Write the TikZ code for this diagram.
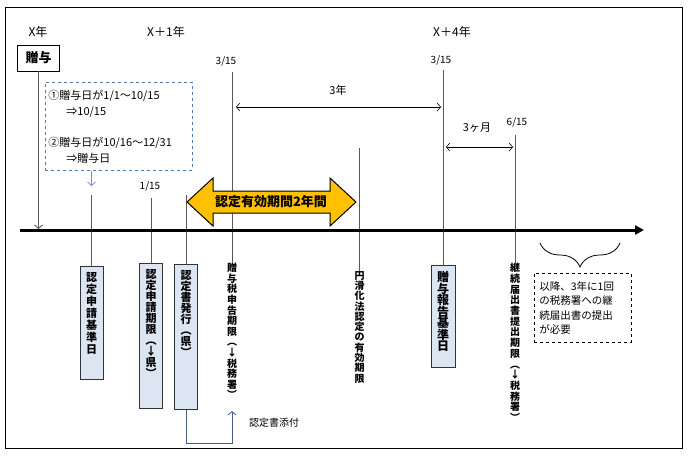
\documentclass[tikz,border=0pt]{standalone}
\usepackage{fontspec}
\setmainfont{Noto Sans CJK JP}
\usetikzlibrary{arrows.meta,decorations.pathreplacing}
\definecolor{boxblue}{HTML}{DCE6F2}
\definecolor{gold}{HTML}{FFC000}
\definecolor{dashblue}{HTML}{4F7BB5}
\definecolor{linkblue}{HTML}{445F88}
\newcommand{\tate}[2]{\vbox{\baselineskip=#1\lineskiplimit=-\maxdimen\lineskip=0pt\let\\\cr\halign{\hfil##\hfil\cr#2\crcr}}}

\begin{document}
\begin{tikzpicture}[x=1pt,y=-1pt,
  tick/.style={draw=black!65,line width=0.9pt},
  tbox/.style={draw=black!80,fill=boxblue,line width=0.9pt,anchor=north,inner xsep=0pt,inner ysep=6pt,minimum width=23pt,font=\bfseries\fontsize{11}{12}\selectfont},
  tlab/.style={anchor=north,inner sep=0pt,font=\bfseries\fontsize{10}{11}\selectfont},
  date/.style={font=\fontsize{10}{11}\selectfont},
  year/.style={font=\fontsize{12}{13}\selectfont},
  barb/.style={-{Straight Barb[length=3.5pt,width=8pt]}},
  dim/.style={draw,line width=0.6pt,{Straight Barb[length=3.5pt,width=8pt]}-{Straight Barb[length=3.5pt,width=8pt]}}]
\useasboundingbox (0,0) rectangle (693,464);
\path[draw,line width=0.8pt] (5,7) rectangle (682,448);

\node[year] (yx) at (38,32) {X年};
\node[year] (yx1) at (166,32) {X＋1年};
\node[year] (yx4) at (452,32) {X＋4年};

\node[draw,line width=0.9pt,minimum width=42pt,minimum height=26pt,font=\bfseries\fontsize{13}{14}\selectfont] (gift) at (38.5,58) {贈与};
\coordinate (g0) at (38.5,229);
\path[tick,barb] (gift) -- (g0);

\node[draw=dashblue,dashed,line width=0.8pt,anchor=north west,minimum width=147pt,minimum height=88pt,text width=141pt,inner sep=3pt,align=left,font=\fontsize{11}{16}\selectfont] (rule) at (45,82) {①贈与日が1/1～10/15\\\hspace*{18pt}⇒10/15\\[15pt]②贈与日が10/16～12/31\\\hspace*{18pt}⇒贈与日};

\node[tbox] (l1) at (91.5,266) {\vbox to 101pt{\tate{12pt}{認\\定\\申\\請\\基\\準\\日}\vfil}};
\node[tbox] (l2) at (151,263) {\vbox to 133pt{\tate{11pt}{認\\定\\申\\請\\期\\限\\︵\\↓\\県\\︶}\vfil}};
\node[tbox] (l3) at (186,264) {\vbox to 133pt{\tate{11pt}{認\\定\\書\\発\\行\\︵\\県\\︶}\vfil}};
\node[tlab] (l4) at (232,263) {\tate{10.6pt}{贈\\与\\税\\申\\告\\期\\限\\︵\\↓\\税\\務\\署\\︶}};
\node[tlab] (l5) at (359.5,271) {\tate{10.3pt}{円\\滑\\化\\法\\認\\定\\の\\有\\効\\期\\限}};
\node[tbox,minimum width=24pt,font=\bfseries\fontsize{12}{13}\selectfont] (l6) at (443,265) {\vbox to 90pt{\tate{11.5pt}{贈\\与\\報\\告\\基\\準\\日}\vfil}};
\node[tlab] (l7) at (515,263) {\tate{10.7pt}{継\\続\\届\\出\\書\\提\\出\\期\\限\\︵\\↓\\税\\務\\署\\︶}};

\coordinate (t1) at (91.5,195);
\coordinate (t2) at (151,198);
\coordinate (t3) at (186,195);
\coordinate (t4) at (232,72);
\coordinate (t5) at (359.5,148);
\coordinate (t6) at (443,70);
\coordinate (t7) at (515,135);
\coordinate (b1) at (91.5,186);
\path[draw=dashblue!85,line width=0.7pt,barb] (rule.south -| t1) -- (b1);
\path[tick] (t1) -- (l1);
\path[tick] (t2) -- (l2);
\path[tick] (t3) -- (l3);
\path[tick] (t4) -- (l4);
\path[tick] (t5) -- (l5);
\path[tick] (t6) -- (l6);
\path[tick] (t7) -- (l7);

\node[date] (d115) at (150,186) {1/15};
\node[date] (d315a) at (226,61) {3/15};
\node[date] (d315b) at (441,60) {3/15};
\node[date] (d615) at (517,122) {6/15};

\coordinate (a1) at (236,107);
\coordinate (a2) at (441,107);
\path[dim] (a1) -- (a2);
\node[font=\fontsize{11}{12}\selectfont] (y3) at (338,90) {3年};
\coordinate (a3) at (446,147);
\coordinate (a4) at (513,147);
\path[dim] (a3) -- (a4);
\node[font=\fontsize{11}{12}\selectfont] (m3) at (477,128) {3ヶ月};

\coordinate (tl0) at (20,230);
\coordinate (tl1) at (644,230);
\path[draw,line width=3pt,-{Triangle[length=9pt,width=9pt]}] (tl0) -- (tl1);

\path[draw,fill=gold,line width=1pt] (187,202) -- (213,178) -- (213,191) -- (330,191) -- (330,178) -- (356,202) -- (330,226) -- (330,213) -- (213,213) -- (213,226) -- cycle;
\node[font=\bfseries\fontsize{13}{14}\selectfont] (valid) at (271,202) {認定有効期間2年間};

\coordinate (att) at (232,411);
\path[draw=linkblue,line width=0.8pt,barb] (l3.south) -- ++(0,33) -| (att);
\node[font=\fontsize{10}{11}\selectfont] (attl) at (274,423) {認定書添付};

\coordinate (br0) at (540,243);
\coordinate (br1) at (620,243);
\path[draw,line width=0.8pt,decorate,decoration={brace,amplitude=24pt,mirror}] (br0) -- (br1);
\node[draw,dashed,line width=0.8pt,anchor=north west,minimum width=97pt,minimum height=69pt,text width=87pt,inner sep=5pt,align=left,font=\fontsize{10.5}{14.5}\selectfont] (later) at (534,273) {以降、3年に1回\\の税務署への継\\続届出書の提出\\が必要};
\end{tikzpicture}
\end{document}
